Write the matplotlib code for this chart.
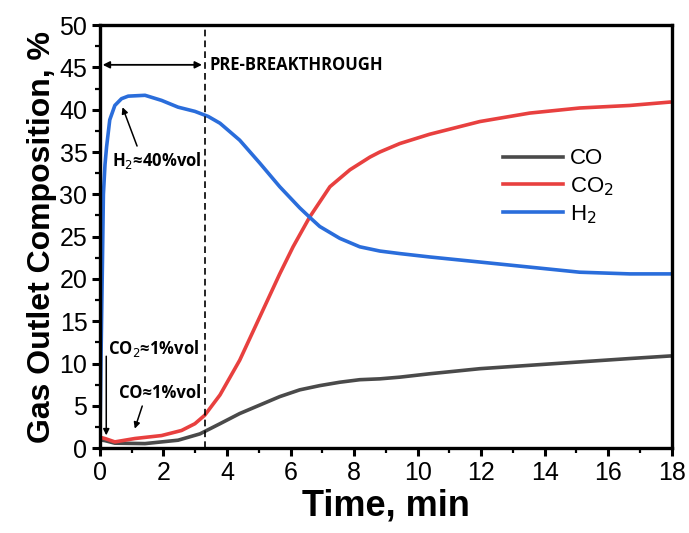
import numpy as np
import matplotlib.pyplot as plt
from matplotlib.ticker import MultipleLocator

# outlet composition (%) vs time (min)
t_h2 = [0.0, 0.04, 0.08, 0.11, 0.16, 0.21, 0.31, 0.47, 0.68, 0.89, 1.42, 1.94, 2.46,
        2.99, 3.41, 3.78, 4.4, 5.03, 5.66, 6.29, 6.6, 6.92, 7.55, 8.18, 8.81, 9.44,
        10.38, 11.96, 13.53, 15.1, 16.68, 17.94, 18.0]
h2 = [1.0, 12.0, 22.0, 30.0, 33.5, 35.6, 38.8, 40.5, 41.3, 41.6, 41.7, 41.1, 40.3,
      39.8, 39.2, 38.4, 36.4, 33.7, 30.9, 28.4, 27.3, 26.2, 24.8, 23.8, 23.3, 23.0,
      22.6, 22.0, 21.4, 20.8, 20.6, 20.6, 20.6]

t_co2 = [0.0, 0.16, 0.47, 1.1, 1.94, 2.57, 2.99, 3.3, 3.78, 4.4, 5.03, 5.66, 6.08,
         6.6, 7.24, 7.87, 8.5, 8.81, 9.44, 10.38, 11.96, 13.53, 15.1, 16.68, 17.94, 18.0]
co2 = [1.3, 1.15, 0.75, 1.15, 1.5, 2.1, 2.9, 3.9, 6.3, 10.4, 15.5, 20.6, 23.8,
       27.3, 30.9, 32.9, 34.4, 35.0, 36.0, 37.1, 38.6, 39.6, 40.2, 40.5, 40.9, 40.9]

t_co = [0.0, 0.16, 0.47, 1.42, 2.46, 3.15, 3.78, 4.4, 5.03, 5.66, 6.29, 6.92, 7.55,
        8.18, 8.81, 9.44, 10.38, 11.96, 13.53, 15.1, 16.68, 17.94, 18.0]
co = [1.0, 0.9, 0.6, 0.55, 0.95, 1.7, 2.9, 4.1, 5.1, 6.1, 6.9, 7.4, 7.8,
      8.1, 8.2, 8.4, 8.8, 9.4, 9.8, 10.2, 10.6, 10.9, 10.9]

t_break = 3.3

plt.rcParams['font.family'] = ['Liberation Sans', 'DejaVu Sans']

fig = plt.figure(figsize=(6.89, 5.33), dpi=100)
ax = fig.add_axes([0.145, 0.159, 0.83, 0.794])

ax.plot(t_co, co, color='#4a4a4a', lw=2.6, label='CO')
ax.plot(t_co2, co2, color='#e8403f', lw=2.6, label='CO$_2$')
ax.plot(t_h2, h2, color='#2a6ddb', lw=2.6, label='H$_2$')

ax.axvline(t_break, color='black', lw=1.2, ls=(0, (4, 2.5)))

ax.set_xlim(0, 18)
ax.set_ylim(0, 50)
ax.xaxis.set_major_locator(MultipleLocator(2))
ax.xaxis.set_minor_locator(MultipleLocator(1))
ax.yaxis.set_major_locator(MultipleLocator(5))
ax.yaxis.set_minor_locator(MultipleLocator(2.5))
ax.tick_params(which='major', direction='out', length=6, width=2.2, labelsize=18, pad=3)
ax.tick_params(which='minor', direction='out', length=3.5, width=1.6)
for s in ax.spines.values():
    s.set_linewidth(2.4)

ax.set_xlabel('Time, min', fontsize=26, fontweight='bold', labelpad=3)
ax.set_ylabel('Gas Outlet Composition, %', fontsize=23, fontweight='bold', labelpad=2)

note = dict(family=['Open Sans', 'DejaVu Sans'], fontweight='bold', fontsize=12)
ax.annotate('', xy=(0.0, 45.3), xytext=(t_break, 45.3),
            arrowprops=dict(arrowstyle='<|-|>', color='black', lw=1.3, mutation_scale=10))
ax.text(t_break + 0.15, 45.3, 'PRE-BREAKTHROUGH', va='center', ha='left', **note)

ax.annotate('', xy=(0.68, 40.6), xytext=(1.2, 35.4),
            arrowprops=dict(arrowstyle='-|>', color='black', lw=1.1, mutation_scale=9))
ax.text(0.38, 34.0, 'H$_2$≈40%vol', va='center', ha='left', **note)

ax.annotate('', xy=(0.2, 1.2), xytext=(0.2, 11.2),
            arrowprops=dict(arrowstyle='-|>', color='black', lw=1.1, mutation_scale=9))
ax.text(0.26, 11.8, 'CO$_2$≈1%vol', va='center', ha='left', **note)

ax.annotate('', xy=(1.07, 2.0), xytext=(1.36, 5.3),
            arrowprops=dict(arrowstyle='-|>', color='black', lw=1.1, mutation_scale=9))
ax.text(0.6, 6.5, 'CO≈1%vol', va='center', ha='left', **note)

ax.legend(loc='center left', bbox_to_anchor=(0.705, 0.617), frameon=False,
          fontsize=16, handlelength=2.7, handletextpad=0.3, labelspacing=0.25,
          borderpad=0, borderaxespad=0)

fig.savefig('out.png', dpi=100)
